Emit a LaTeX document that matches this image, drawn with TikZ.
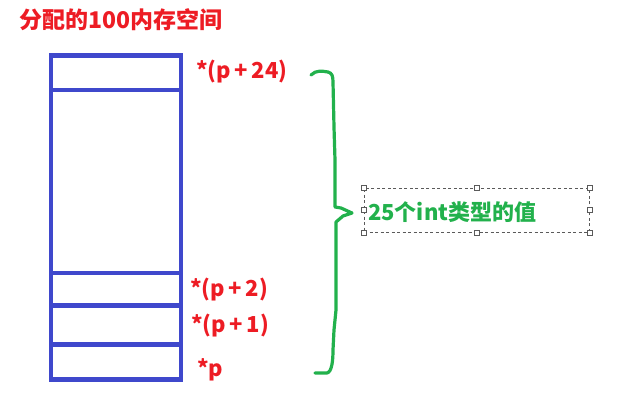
\documentclass[tikz,border=0pt]{standalone}
\usepackage{fontspec}
\newfontfamily\cjk{Noto Sans CJK SC}
\definecolor{pred}{RGB}{237,28,36}
\definecolor{pblue}{RGB}{63,72,204}
\definecolor{pgreen}{RGB}{34,177,76}
\definecolor{hgray}{RGB}{90,90,90}
\tikzset{
  cell/.style={draw=pblue, line width=4.5pt, inner sep=0pt, minimum width=130pt, anchor=north west},
  lbl/.style={text=pred, font=\cjk\bfseries\fontsize{22}{26}\selectfont, anchor=west, inner sep=0pt},
  handle/.style={draw=hgray, fill=white, line width=0.7pt, minimum size=5pt, inner sep=0pt},
}
\begin{document}
\begin{tikzpicture}[x=1pt,y=-1pt]
\useasboundingbox (0,0) rectangle (633,418);
% title
\node[lbl, anchor=west, font=\cjk\bfseries\fontsize{23}{26}\selectfont] (title) at (19,20) {分配的100内存空间};
% memory cells
\node[cell, minimum height=34.5pt] (c4) at (48.5,53) {};
\node[cell, minimum height=183pt] (cbig) at (48.5,87.5) {};
\node[cell, minimum height=32.5pt] (c2) at (48.5,270.5) {};
\node[cell, minimum height=39pt] (c1) at (48.5,303) {};
\node[cell, minimum height=35pt] (c0) at (48.5,342) {};
% labels
\node[lbl] (l24) at (196,72) {*(p\,+\,24)};
\node[lbl] (l2) at (190,290) {*(p\,+\,2)};
\node[lbl] (l1) at (191,326) {*(p\,+\,1)};
\node[lbl] (l0) at (197,370) {*p};
% brace
\coordinate (btop) at (311,75);
\coordinate (bbot) at (315,373);
\coordinate (btip) at (352,213);
\draw[pgreen, line width=3.2pt, line join=round, line cap=round]
  (btop) .. controls (316,70) and (322,71) .. (328,72)
  .. controls (332,73) and (333,76) .. (333,82)
  -- (334,127) -- (335,160) -- (335,207)
  -- (341,208) -- (btip) -- (343,216) -- (336,222)
  -- (336,310) -- (334,330) -- (333,350)
  .. controls (333,360) and (332,372) .. (327,373) -- (bbot);
% dashed text box
\node[draw=hgray, dashed, dash pattern=on 3pt off 2.5pt, line width=0.8pt,
      minimum width=225pt, minimum height=44pt, inner sep=0pt] (tb) at (476.5,210) {};
\node[text=pgreen, font=\cjk\bfseries\fontsize{22}{26}\selectfont, anchor=west, inner sep=0pt] (tt) at (368,212) {25个int类型的值};
\foreach \a in {north west,north,north east,west,east,south west,south,south east}
  \node[handle] at (tb.\a) {};
\end{tikzpicture}
\end{document}
